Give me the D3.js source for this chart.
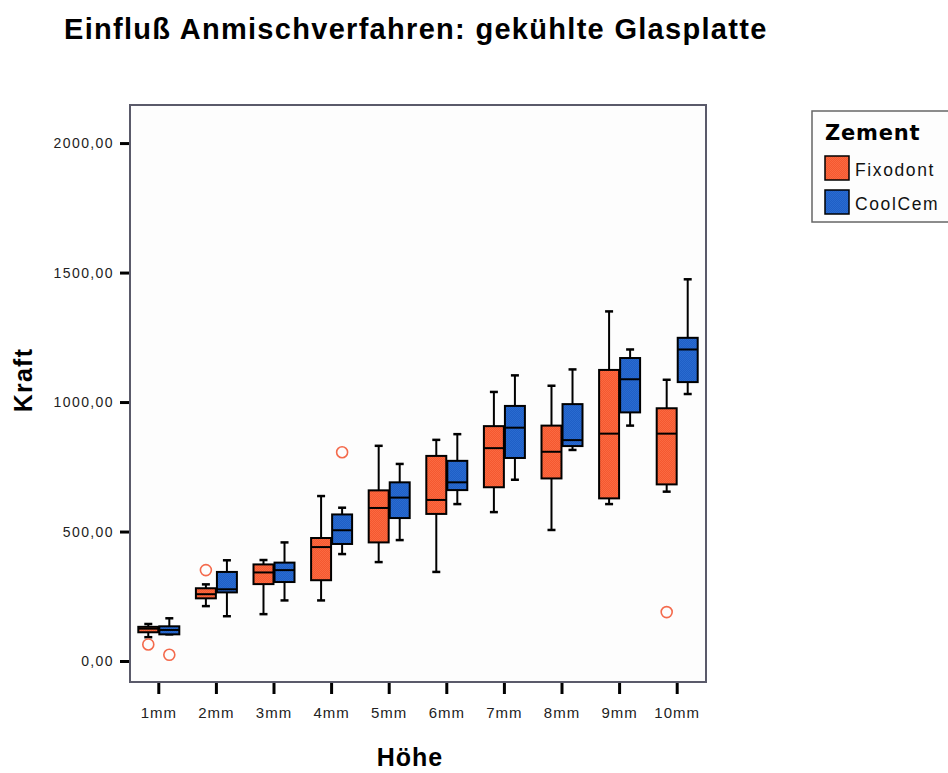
<!DOCTYPE html>
<html>
<head>
<meta charset="utf-8">
<script src="https://cdn.jsdelivr.net/npm/d3@7"></script>
<style>
  html, body { margin: 0; padding: 0; background: #ffffff; }
  svg { display: block; }
  text { font-family: "Liberation Sans", Arial, sans-serif; }
</style>
</head>
<body>
<svg id="chart" width="948" height="773"></svg>
<script>
// Kraft je Höhe, gruppiert nach Zement (Boxplot-Kennwerte)
const categories = ["1mm", "2mm", "3mm", "4mm", "5mm", "6mm", "7mm", "8mm", "9mm", "10mm"];
const seriesNames = ["Fixodont", "CoolCem"];

// Fixodont: unterer Whisker, Q1, Median, Q3, oberer Whisker
const fixLow    = [  92, 212, 181, 234, 382, 344, 575,  506,  606,  654];
const fixQ1     = [ 111, 242, 297, 312, 458, 568, 671,  705,  628,  682];
const fixMedian = [ 125, 258, 342, 440, 591, 622, 822,  808,  878,  878];
const fixQ3     = [ 132, 281, 373, 475, 659, 792, 907,  909, 1124,  976];
const fixHigh   = [ 143, 296, 390, 637, 831, 854, 1039, 1063, 1350, 1086];

// CoolCem: unterer Whisker, Q1, Median, Q3, oberer Whisker
const coolLow    = [ 103, 173, 234, 413, 467, 606, 700,  815,  909, 1031];
const coolQ1     = [ 103, 265, 305, 452, 552, 660, 784,  830,  960, 1077];
const coolMedian = [ 120, 277, 351, 505, 631, 690, 901,  853, 1088, 1203];
const coolQ3     = [ 134, 344, 380, 566, 690, 773, 985,  992, 1170, 1248];
const coolHigh   = [ 165, 389, 458, 592, 761, 876, 1103, 1126, 1203, 1474];

// Ausreißer: Kategorie, Zement, Wert
const outlierCats   = ["1mm", "1mm", "2mm", "4mm", "10mm"];
const outlierSeries = ["Fixodont", "CoolCem", "Fixodont", "CoolCem", "Fixodont"];
const outlierValues = [64, 24, 351, 806, 189];

const yTicks = [0, 500, 1000, 1500, 2000];

const colors = { Fixodont: "#f5582f", CoolCem: "#1f5fc6" };
const outlierColor = "#f46a4c";

const svg = d3.select("#chart");

// Feines Raster als Füllmuster
const defs = svg.append("defs");
function addPattern(id, base, dot) {
  const p = defs.append("pattern").attr("id", id)
    .attr("width", 2).attr("height", 2).attr("patternUnits", "userSpaceOnUse");
  p.append("rect").attr("width", 2).attr("height", 2).attr("fill", base);
  p.append("rect").attr("x", 0).attr("y", 0).attr("width", 1).attr("height", 1).attr("fill", dot);
  p.append("rect").attr("x", 1).attr("y", 1).attr("width", 1).attr("height", 1).attr("fill", dot);
}
addPattern("patFix", colors.Fixodont, "#fa6a42");
addPattern("patCool", colors.CoolCem, "#2a6bd0");
const fills = { Fixodont: "url(#patFix)", CoolCem: "url(#patCool)" };

const plot = { left: 130, right: 706, top: 105, bottom: 682 };

const x = d3.scaleBand().domain(categories).range([plot.left, plot.right]).padding(0);
const inner = d3.scaleBand().domain(seriesNames).range([-20.5, 20.5]).paddingInner(0.05);
const y = d3.scaleLinear().domain([-81, 2147]).range([plot.bottom, plot.top]);

// Titel
svg.append("text")
  .attr("x", 64).attr("y", 39)
  .attr("font-size", 29).attr("font-weight", "bold").attr("fill", "#000")
  .attr("letter-spacing", 1.3)
  .text("Einfluß Anmischverfahren: gekühlte Glasplatte");

// Plotfläche
svg.append("rect")
  .attr("x", plot.left).attr("y", plot.top)
  .attr("width", plot.right - plot.left).attr("height", plot.bottom - plot.top)
  .attr("fill", "#fdfdfd").attr("stroke", "#5a5a6a").attr("stroke-width", 2);

// Y-Achse
const yAxis = d3.axisLeft(y).tickValues(yTicks).tickSize(9).tickPadding(6)
  .tickFormat(d => d3.format(".2f")(d).replace(".", ","));
const gy = svg.append("g").attr("transform", `translate(${plot.left - 1},0)`).call(yAxis);
gy.select(".domain").remove();
gy.selectAll(".tick line").attr("stroke", "#000").attr("stroke-width", 3);
gy.selectAll(".tick text").attr("font-size", 14).attr("fill", "#222")
  .attr("letter-spacing", 1.4);

// X-Achse
const xAxis = d3.axisBottom(x).tickSize(11).tickPadding(13);
const gx = svg.append("g").attr("transform", `translate(0,${plot.bottom + 1})`).call(xAxis);
gx.select(".domain").remove();
gx.selectAll(".tick line").attr("stroke", "#000").attr("stroke-width", 3);
gx.selectAll(".tick text").attr("font-size", 15).attr("fill", "#222")
  .attr("letter-spacing", 1);

// Achsentitel
svg.append("text")
  .attr("transform", "translate(32,380) rotate(-90)")
  .attr("text-anchor", "middle")
  .attr("font-size", 25).attr("font-weight", "bold").attr("fill", "#000")
  .attr("letter-spacing", 1.2)
  .text("Kraft");
svg.append("text")
  .attr("x", 410).attr("y", 766)
  .attr("text-anchor", "middle")
  .attr("font-size", 25).attr("font-weight", "bold").attr("fill", "#000")
  .attr("letter-spacing", 1)
  .text("Höhe");

// Boxplot-Daten aufbauen
const stats = [];
categories.forEach((c, i) => {
  stats.push({ cat: c, series: "Fixodont", lo: fixLow[i], q1: fixQ1[i], med: fixMedian[i], q3: fixQ3[i], hi: fixHigh[i] });
  stats.push({ cat: c, series: "CoolCem", lo: coolLow[i], q1: coolQ1[i], med: coolMedian[i], q3: coolQ3[i], hi: coolHigh[i] });
});

const boxW = inner.bandwidth();
const cx = d => x(d.cat) + x.bandwidth() / 2 + inner(d.series) + boxW / 2;
const capHalf = 4;

const g = svg.append("g");
const box = g.selectAll("g.box").data(stats).join("g").attr("class", "box");

// Whisker
box.append("line")
  .attr("x1", cx).attr("x2", cx)
  .attr("y1", d => y(d.hi)).attr("y2", d => y(d.q3))
  .attr("stroke", "#000").attr("stroke-width", 2);
box.append("line")
  .attr("x1", cx).attr("x2", cx)
  .attr("y1", d => y(d.q1)).attr("y2", d => y(d.lo))
  .attr("stroke", "#000").attr("stroke-width", 2);
box.append("line")
  .attr("x1", d => cx(d) - capHalf).attr("x2", d => cx(d) + capHalf)
  .attr("y1", d => y(d.hi)).attr("y2", d => y(d.hi))
  .attr("stroke", "#000").attr("stroke-width", 2.5);
box.append("line")
  .attr("x1", d => cx(d) - capHalf).attr("x2", d => cx(d) + capHalf)
  .attr("y1", d => y(d.lo)).attr("y2", d => y(d.lo))
  .attr("stroke", "#000").attr("stroke-width", 2.5);

// Box
box.append("rect")
  .attr("x", d => cx(d) - boxW / 2)
  .attr("y", d => y(d.q3))
  .attr("width", boxW)
  .attr("height", d => y(d.q1) - y(d.q3))
  .attr("fill", d => fills[d.series])
  .attr("stroke", "#000").attr("stroke-width", 2);

// Median
box.append("line")
  .attr("x1", d => cx(d) - boxW / 2).attr("x2", d => cx(d) + boxW / 2)
  .attr("y1", d => y(d.med)).attr("y2", d => y(d.med))
  .attr("stroke", "#000").attr("stroke-width", 2);

// Ausreißer
const outliers = outlierValues.map((v, i) => ({ cat: outlierCats[i], series: outlierSeries[i], value: v }));
g.selectAll("circle.out").data(outliers).join("circle")
  .attr("class", "out")
  .attr("cx", cx)
  .attr("cy", d => y(d.value))
  .attr("r", 5.5)
  .attr("fill", "none")
  .attr("stroke", outlierColor).attr("stroke-width", 1.6);

// Legende
const lg = svg.append("g");
lg.append("rect")
  .attr("x", 812).attr("y", 111).attr("width", 140).attr("height", 111)
  .attr("fill", "#fdfdfd").attr("stroke", "#666").attr("stroke-width", 1.5);
lg.append("text")
  .attr("x", 825).attr("y", 140)
  .style("font-family", "'DejaVu Sans', Verdana, sans-serif")
  .attr("font-size", 21).attr("font-weight", "bold").attr("fill", "#000")
  .attr("letter-spacing", 0.8)
  .text("Zement");
seriesNames.forEach((s, i) => {
  lg.append("rect")
    .attr("x", 825).attr("y", 156 + i * 34).attr("width", 24).attr("height", 24)
    .attr("fill", fills[s]).attr("stroke", "#000").attr("stroke-width", 1.5);
  lg.append("text")
    .attr("x", 855).attr("y", 176 + i * 34)
    .attr("font-size", 17.5).attr("fill", "#111")
    .attr("letter-spacing", 1.6)
    .text(s);
});
</script>
</body>
</html>
